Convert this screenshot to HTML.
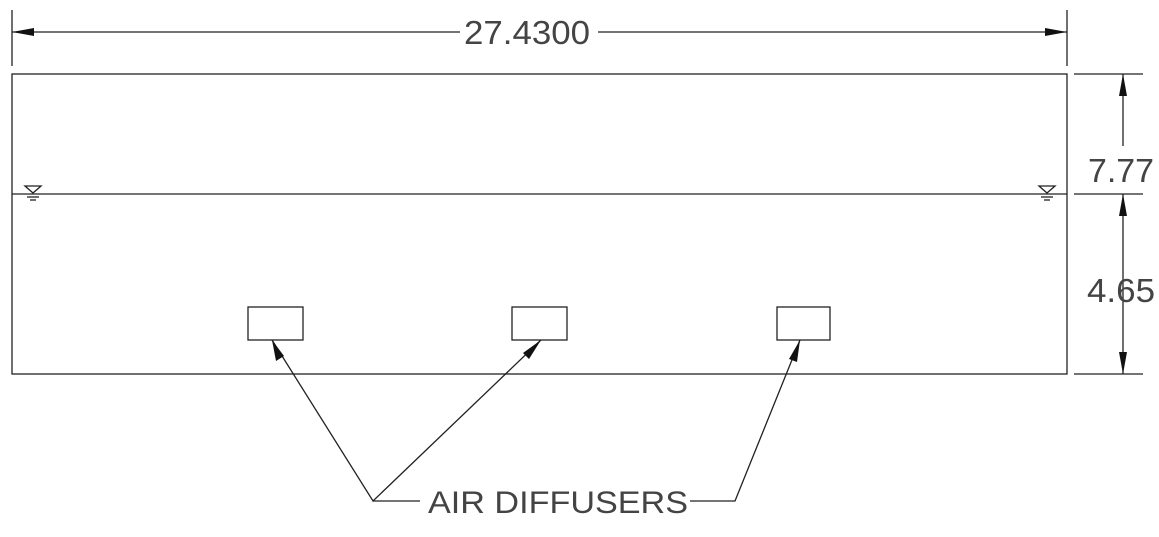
<!DOCTYPE html>
<html><head><style>
html,body{margin:0;padding:0;background:#fff;width:1159px;height:537px;overflow:hidden}
text{font-family:"Liberation Sans",sans-serif;fill:#444}
</style></head><body>
<svg width="1159" height="537" viewBox="0 0 1159 537" xmlns="http://www.w3.org/2000/svg">
<g stroke="#222" stroke-width="1.3" fill="none">
<line x1="12" y1="10" x2="12" y2="66"/>
<line x1="1067" y1="10" x2="1067" y2="66"/>
<line x1="12" y1="32" x2="460" y2="32"/>
<line x1="598" y1="32" x2="1067" y2="32"/>
<rect x="12" y="74" width="1055" height="300"/>
<line x1="12" y1="194" x2="1067" y2="194"/>
<line x1="1074" y1="74" x2="1143" y2="74"/>
<line x1="1074" y1="194" x2="1143" y2="194"/>
<line x1="1074" y1="374" x2="1143" y2="374"/>
<line x1="1123" y1="74" x2="1123" y2="146"/>
<line x1="1123" y1="194" x2="1123" y2="374"/>
<rect x="248" y="307" width="55" height="33"/>
<rect x="512" y="307" width="55" height="33"/>
<rect x="777" y="307" width="53" height="33"/>
<polyline points="272,340 373,501 541,340"/>
<line x1="373" y1="501" x2="420" y2="501"/>
<polyline points="690,501 735,501 800,340"/>
<path d="M25 186 L41 186 L33 193 Z"/>
<line x1="27" y1="197" x2="39" y2="197"/><line x1="30" y1="200" x2="36" y2="200"/>
<path d="M1039 186 L1055 186 L1047 193 Z"/>
<line x1="1041" y1="197" x2="1053" y2="197"/><line x1="1044" y1="200" x2="1050" y2="200"/>
</g>
<g fill="#111">
<path d="M12 32 L34 28 L34 36 Z"/>
<path d="M1067 32 L1045 28 L1045 36 Z"/>
<path d="M1123 74 L1119 96 L1127 96 Z"/>
<path d="M1123 194 L1119 216 L1127 216 Z"/>
<path d="M1123 374 L1119 352 L1127 352 Z"/>
<path d="M272 340 L276 361 L284 356 Z"/>
<path d="M541 340 L523 353 L529 359 Z"/>
<path d="M800 340 L789 359 L797 362 Z"/>
</g>
<text transform="translate(464,44) scale(1,1.2)" font-size="28" textLength="126" lengthAdjust="spacingAndGlyphs">27.4300</text>
<text transform="translate(1088,182) scale(1,1.2)" font-size="28" textLength="66" lengthAdjust="spacingAndGlyphs">7.77</text>
<text transform="translate(1087,302) scale(1,1.2)" font-size="28" textLength="68" lengthAdjust="spacingAndGlyphs">4.65</text>
<text transform="translate(428,513) scale(1,1.2)" font-size="26" textLength="260" lengthAdjust="spacingAndGlyphs">AIR DIFFUSERS</text>
</svg>
</body></html>
